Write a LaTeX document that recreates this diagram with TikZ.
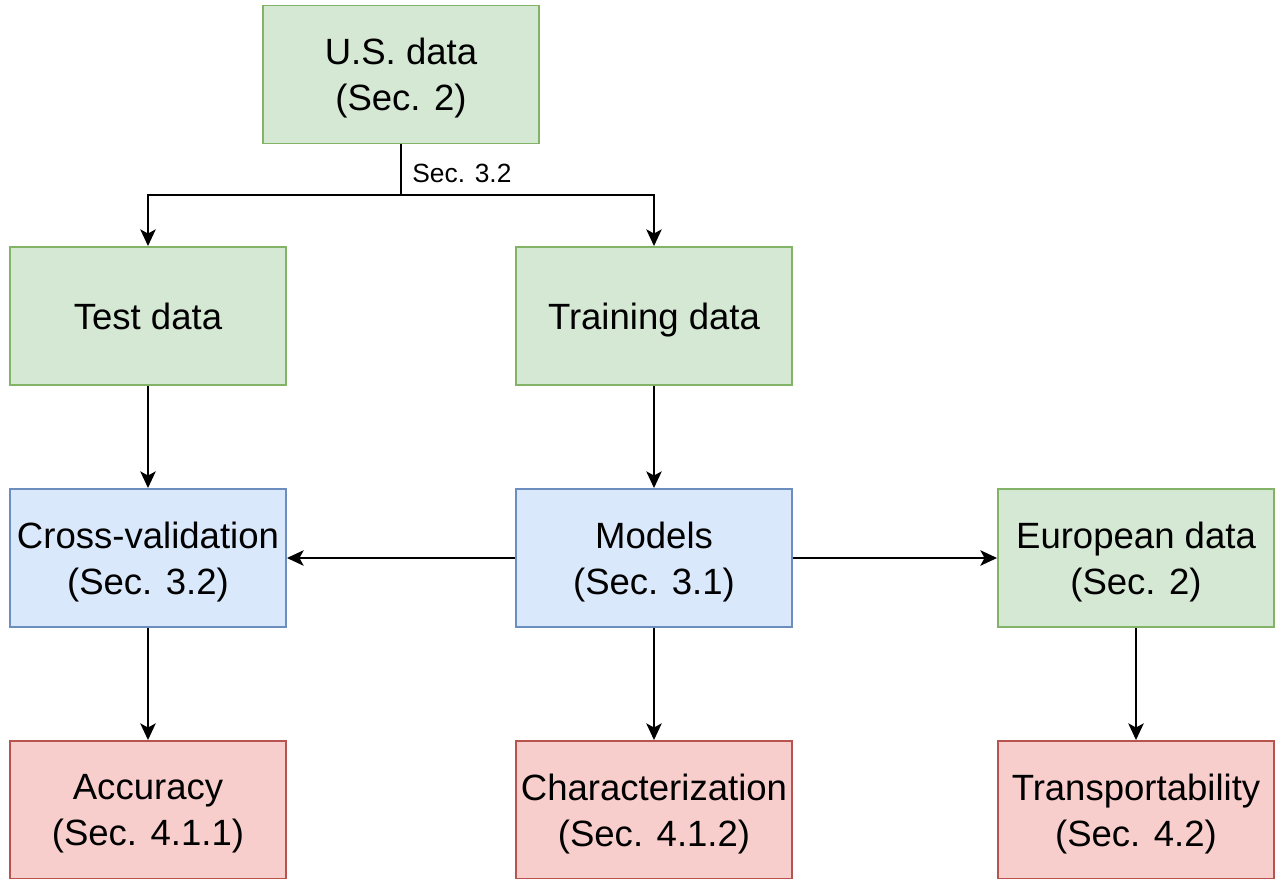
\documentclass[tikz,border=0pt]{standalone}
\usepackage{fontspec}
\setmainfont{Liberation Sans}
\usetikzlibrary{arrows.meta}
\definecolor{gfill}{HTML}{D5E8D4}\definecolor{gdraw}{HTML}{82B366}
\definecolor{bfill}{HTML}{DAE8FC}\definecolor{bdraw}{HTML}{6C8EBF}
\definecolor{rfill}{HTML}{F8CECC}\definecolor{rdraw}{HTML}{B85450}
\newcommand\nodp[1]{\raisebox{0pt}[\height][0pt]{#1}}
\tikzset{
  box/.style={rectangle, minimum width=276*0.02cm, minimum height=138*0.02cm, inner sep=0pt, line width=1.1pt, align=center, font=\fontsize{20.8}{26}\selectfont},
  gbox/.style={box, fill=gfill, draw=gdraw},
  bbox/.style={box, fill=bfill, draw=bdraw},
  rbox/.style={box, fill=rfill, draw=rdraw},
  conn/.style={line width=1.1pt, -{Stealth[length=9.5pt, width=8.8pt, inset=2.4pt]}},
}
\begin{document}
\begin{tikzpicture}[x=0.02cm, y=-0.02cm]
\useasboundingbox (0,0) rectangle (1278,879);
\clip (0,0) rectangle (1278,879);
\node[gbox] (us) at (401,74.5) {U.S. data\\\nodp{(Sec. 2)}};
\node[gbox] (test) at (148,316) {Test data};
\node[gbox] (train) at (654,316) {\nodp{Training data}};
\node[bbox] (cv) at (148,558) {Cross-validation\\\nodp{(Sec. 3.2)}};
\node[bbox] (models) at (654,558) {Models\\\nodp{(Sec. 3.1)}};
\node[gbox] (eu) at (1136,558) {European data\\\nodp{(Sec. 2)}};
\node[rbox] (acc) at (148,810) {Accuracy\\\nodp{(Sec. 4.1.1)}};
\node[rbox] (char) at (654,810) {Characterization\\\nodp{(Sec. 4.1.2)}};
\node[rbox] (trans) at (1136,810) {Transportability\\\nodp{(Sec. 4.2)}};
\coordinate (split) at (401,195);
\draw[line width=1.1pt] (us.south) -- (split);
\draw[conn] (split) -| (test.north);
\draw[conn] (split) -| (train.north);
\node[anchor=west, inner sep=0pt, font=\fontsize{15}{18}\selectfont] (lbl) at (412,173) {Sec. 3.2};
\draw[conn] (test) -- (cv);
\draw[conn] (train) -- (models);
\draw[conn] (models) -- (cv);
\draw[conn] (models) -- (eu);
\draw[conn] (cv) -- (acc);
\draw[conn] (models) -- (char);
\draw[conn] (eu) -- (trans);
\end{tikzpicture}
\end{document}
